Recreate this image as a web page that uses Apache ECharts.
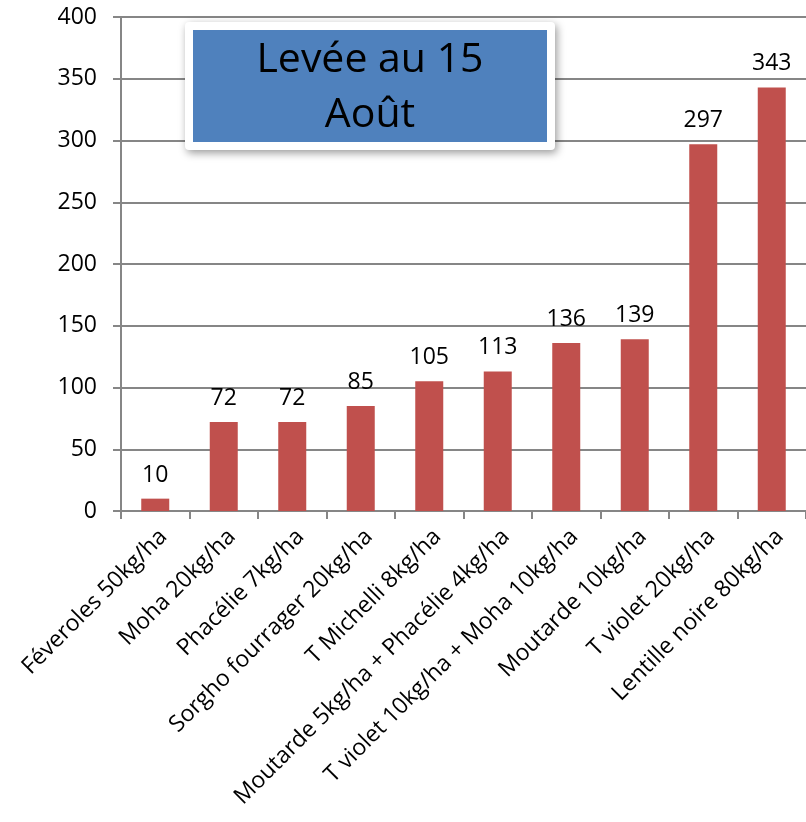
<!DOCTYPE html>
<html><head><meta charset="utf-8">
<script src="https://cdn.jsdelivr.net/npm/echarts@6/dist/echarts.min.js"></script>
<style>html,body{margin:0;padding:0;background:#fff}#c{width:806px;height:822px}</style>
</head><body><div id="c"></div>
<script>
const categories = ["Féveroles 50kg/ha","Moha 20kg/ha","Phacélie 7kg/ha","Sorgho fourrager 20kg/ha","T Michelli 8kg/ha","Moutarde 5kg/ha + Phacélie 4kg/ha","T violet 10kg/ha + Moha 10kg/ha","Moutarde 10kg/ha","T violet 20kg/ha","Lentille noire 80kg/ha"];
const values = [10,72,72,85,105,113,136,139,297,343];
const titleText = "Levée au 15\nAoût";
const FONT = "Open Sans";
const chart = echarts.init(document.getElementById('c'));
chart.setOption({
  animation:false,
  backgroundColor:'#fff',
  grid:{left:121, top:17, width:690, bottom:311, containLabel:false},
  xAxis:{type:'category', data:categories,
    axisLine:{lineStyle:{color:'#868686', width:2}},
    axisTick:{show:true, length:8, lineStyle:{color:'#868686', width:2}},
    axisLabel:{rotate:45, interval:0, fontFamily:FONT, fontSize:23, color:'#000', margin:14, verticalAlign:'top'}
  },
  yAxis:{type:'value', min:0, max:400, interval:50,
    axisLine:{show:true, lineStyle:{color:'#868686', width:2}},
    axisTick:{show:true, length:8, lineStyle:{color:'#868686', width:2}},
    splitLine:{lineStyle:{color:'#868686', width:2}},
    axisLabel:{fontFamily:FONT, fontSize:23, color:'#000', margin:24}
  },
  series:[{type:'bar', data:values, barWidth:28,
    itemStyle:{color:'#C0504D'},
    label:{show:true, position:'top', distance:12, fontFamily:FONT, fontSize:23, color:'#000'}
  }],
  graphic:[
    {type:'rect', shape:{x:185, y:22, width:370, height:128, r:4}, style:{fill:'#fff', shadowBlur:8, shadowOffsetX:2, shadowOffsetY:3, shadowColor:'rgba(0,0,0,0.4)'}, z:10},
    {type:'rect', shape:{x:193, y:30, width:354, height:112}, style:{fill:'#4F81BD'}, z:11},
    {type:'text', x:370, y:88, style:{text:titleText, fontFamily:FONT, fontSize:41, fill:'#000', align:'center', verticalAlign:'middle', lineHeight:55}, z:12}
  ]
});
</script></body></html>
